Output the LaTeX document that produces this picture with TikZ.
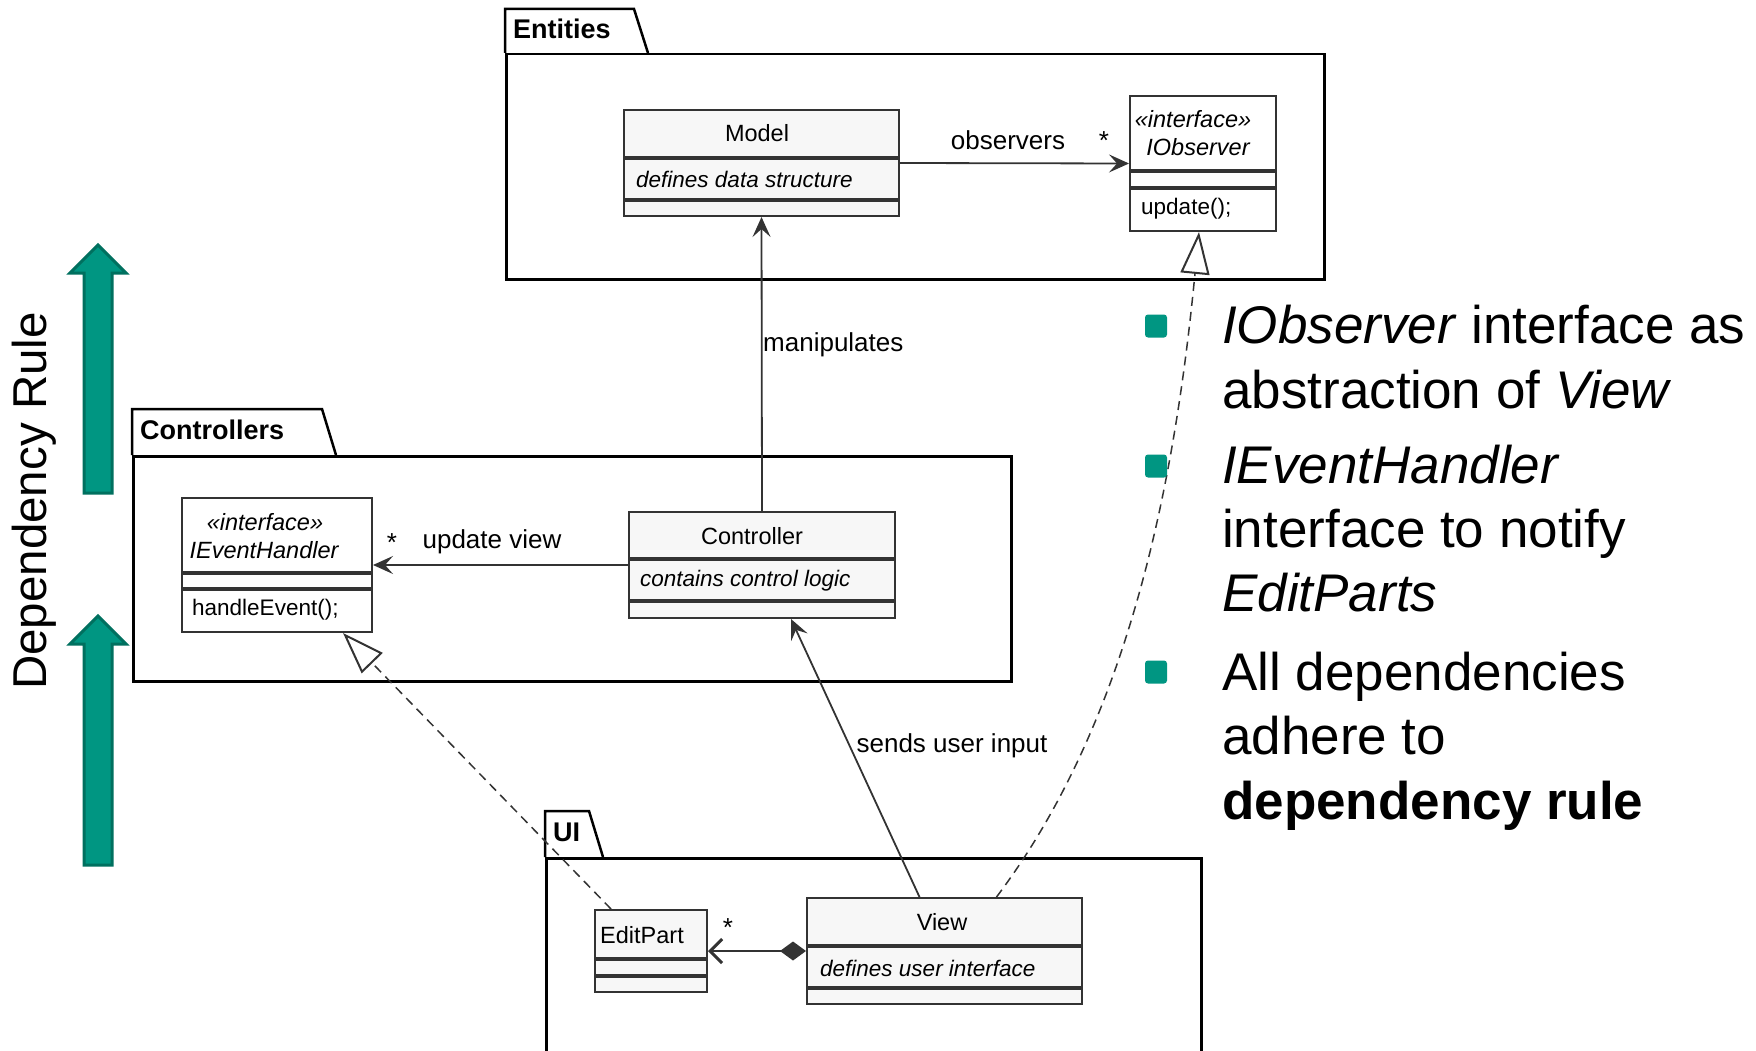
\documentclass[tikz,border=0pt]{standalone}
\usepackage{fontspec}
\setmainfont{Liberation Sans}
\usetikzlibrary{arrows.meta}
\definecolor{umlline}{HTML}{333333}
\definecolor{umlfill}{HTML}{F7F7F7}
\definecolor{kitgreen}{RGB}{0,150,130}
\definecolor{kitdark}{HTML}{00705F}
\newcommand{\setpx}[2][1.2]{\fontsize{#2}{#1\dimexpr #2pt\relax}\selectfont}
\begin{document}
\begin{tikzpicture}[x=1pt, y=-1pt,
  pkgbody/.style={draw=black, line width=2.5pt, fill=white, inner sep=0, anchor=north west},
  pkgtab/.style={draw=black, line width=2.5pt, fill=white, line join=miter},
  pkgname/.style={font=\setpx{27}\bfseries, inner sep=0, anchor=west},
  classbox/.style={draw=umlline, line width=2pt, inner sep=0, anchor=north west, fill=umlfill},
  ifacebox/.style={classbox, fill=white},
  sepline/.style={draw=umlline, line width=4pt},
  cname/.style={font=\setpx{23.5}, inner sep=0},
  cmember/.style={font=\setpx{22.5}, inner sep=0, anchor=west},
  lbl/.style={font=\setpx{26}, inner sep=0},
  assoc/.style={draw=umlline, line width=1.8pt, -{Stealth[length=20pt, width=18pt, inset=8pt]}},
  realize/.style={draw=umlline, line width=1.5pt, dash pattern=on 9pt off 6pt,
    -{Triangle[length=42pt, width=29pt, fill=white, line width=2pt, sep=0pt]}},
  comp/.style={draw=umlline, line width=2.2pt,
    {Diamond[length=26pt, width=19pt]}-{Straight Barb[length=12pt, width=24pt, line width=3pt]}},
  deparrow/.style={fill=kitgreen, draw=kitdark, line width=3pt, line join=miter},
  bulletsq/.style={fill=kitgreen, draw=none, rounded corners=3pt},
  btxt/.style={font=\setpx{53}, inner sep=0, anchor=base west}
]
\useasboundingbox[fill=white] (0,0) rectangle (1756,1051);

% ---------------- packages ----------------
\draw[pkgtab] (505,53) -- (505,9) -- (634,9) -- (648,53);
\node[pkgbody, minimum width=818pt, minimum height=225pt] (entities) at (505,53) {};
\node[pkgname] (entitieslbl) at (513,29) {Entities};

\draw[pkgtab] (132,455) -- (132,409) -- (322,409) -- (336,455);
\node[pkgbody, minimum width=878pt, minimum height=225pt] (controllers) at (132,455) {};
\node[pkgname] (controllerslbl) at (140,430) {Controllers};

\draw[pkgtab] (545,857) -- (545,811) -- (589,811) -- (603,857);
\node[pkgbody, minimum width=655pt, minimum height=230pt] (ui) at (545,857) {};
\node[pkgname] (uilbl) at (553,832) {UI};

% ---------------- classes ----------------
% Model
\node[classbox, minimum width=275pt, minimum height=106pt] (model) at (623,109) {};
\draw[sepline] (model.west |- 0,158) -- (model.east |- 0,158);
\draw[sepline] (model.west |- 0,200) -- (model.east |- 0,200);
\node[cname] (modelname) at (757,133) {Model};
\node[cmember] (modelattr) at (636,179) {\itshape defines data structure};

% IObserver
\node[ifacebox, minimum width=146pt, minimum height=135pt] (iobs) at (1129,95) {};
\draw[sepline] (iobs.west |- 0,171) -- (iobs.east |- 0,171);
\draw[sepline] (iobs.west |- 0,188) -- (iobs.east |- 0,188);
\node[cname] (iobsst) at (1193,119) {\itshape «interface»};
\node[cname] (iobsname) at (1198,147) {\itshape IObserver};
\node[cmember] (iobsop) at (1141,209) {update();};

% IEventHandler
\node[ifacebox, minimum width=190pt, minimum height=134pt] (ieh) at (181,497) {};
\draw[sepline] (ieh.west |- 0,573) -- (ieh.east |- 0,573);
\draw[sepline] (ieh.west |- 0,589) -- (ieh.east |- 0,589);
\node[cname] (iehst) at (265,522) {\itshape «interface»};
\node[cname] (iehname) at (264,550) {\itshape IEventHandler};
\node[cmember] (iehop) at (192,610) {handleEvent();};

% Controller
\node[classbox, minimum width=266pt, minimum height=106pt] (controller) at (628,511) {};
\draw[sepline] (controller.west |- 0,559) -- (controller.east |- 0,559);
\draw[sepline] (controller.west |- 0,601) -- (controller.east |- 0,601);
\node[cname] (controllername) at (752,536) {Controller};
\node[cmember] (controllerattr) at (640,581) {\itshape contains control logic};

% EditPart
\node[classbox, minimum width=112pt, minimum height=82pt] (editpart) at (594,909) {};
\draw[sepline] (editpart.west |- 0,959) -- (editpart.east |- 0,959);
\draw[sepline] (editpart.west |- 0,976) -- (editpart.east |- 0,976);
\node[cname, anchor=west] (editpartname) at (600,935) {EditPart};

% View
\node[classbox, minimum width=275pt, minimum height=106pt] (view) at (806,897) {};
\draw[sepline] (view.west |- 0,946) -- (view.east |- 0,946);
\draw[sepline] (view.west |- 0,988) -- (view.east |- 0,988);
\node[cname] (viewname) at (942,922) {View};
\node[cmember] (viewattr) at (820,968) {\itshape defines user interface};

% ---------------- connectors ----------------
\draw[assoc] (model.east) -- (iobs.west);
\node[lbl] (obslbl) at (1008,140) {observers};
\node[lbl] (obsmult) at (1104,141) {*};

\draw[assoc] (controller.north) -- (model.south);
\node[lbl, anchor=west] (maniplbl) at (763,345) {manipulates};

\draw[assoc] (controller.west) -- (ieh.east);
\node[lbl] (updlbl) at (492,542) {update view};
\node[lbl] (updmult) at (392,543) {*};

\draw[assoc] ([xshift=-25pt]view.north) -- ([xshift=29pt]controller.south);
\node[lbl] (sendlbl) at (952,746) {sends user input};

\draw[realize] ([xshift=-40pt]editpart.north) -- ([xshift=66pt]ieh.south);

\draw[realize] ([xshift=52pt]view.north) .. controls (1130,720) and (1175,480) .. ([xshift=-4pt]iobs.south);

\draw[comp] (view.west) -- (editpart.east);
\node[lbl] (compmult) at (728,928) {*};

% ---------------- dependency rule ----------------
\draw[deparrow] (84,493) -- (84,273) -- (70,273) -- (98,245) -- (126,273) -- (112,273) -- (112,493) -- cycle;
\draw[deparrow] (84,865) -- (84,644) -- (70,644) -- (98,616) -- (126,644) -- (112,644) -- (112,865) -- cycle;
\node[rotate=90, font=\setpx{47.5}, inner sep=0] (deprule) at (34,501) {Dependency Rule};

% ---------------- bullets ----------------
\node[bulletsq, minimum width=22pt, minimum height=23pt, inner sep=0] (bul1) at (1156,326) {};
\node[bulletsq, minimum width=22pt, minimum height=23pt, inner sep=0] (bul2) at (1156,466) {};
\node[bulletsq, minimum width=22pt, minimum height=23pt, inner sep=0] (bul3) at (1156,672) {};
\node[btxt] (b1a) at (1222,343) {\textit{IObserver} interface as};
\node[btxt] (b1b) at (1222,408) {abstraction of \textit{View}};
\node[btxt] (b2a) at (1222,483) {\textit{IEventHandler}};
\node[btxt] (b2b) at (1222,547) {interface to notify};
\node[btxt] (b2c) at (1222,611) {\textit{EditParts}};
\node[btxt] (b3a) at (1222,690) {All dependencies};
\node[btxt] (b3b) at (1222,754) {adhere to};
\node[btxt] (b3c) at (1222,819) {\textbf{dependency rule}};
\end{tikzpicture}
\end{document}
